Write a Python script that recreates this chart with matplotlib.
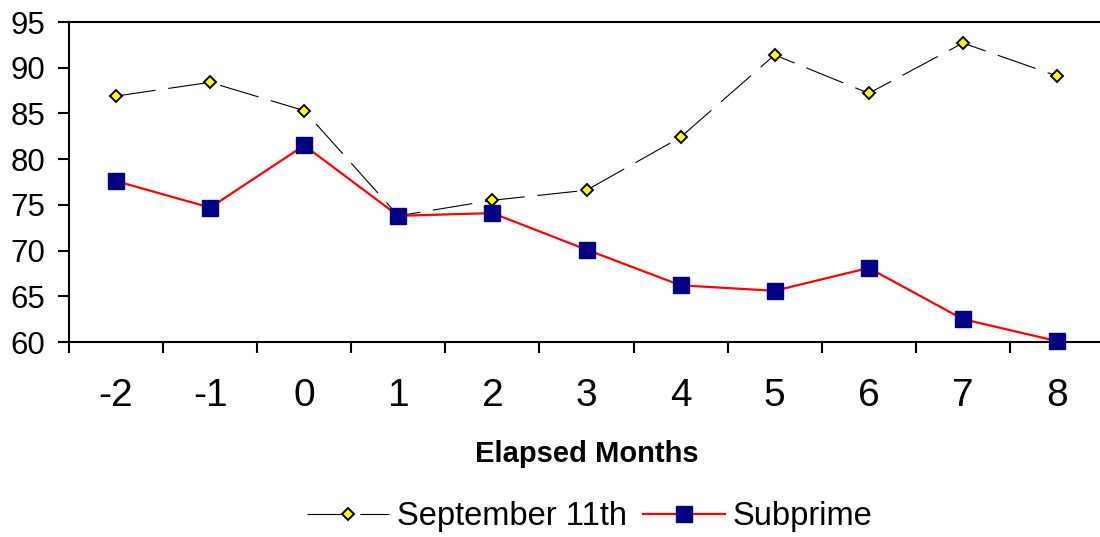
import matplotlib
matplotlib.use('Agg')
import matplotlib.pyplot as plt
import numpy as np

plt.rcParams['font.family'] = ['Liberation Sans', 'DejaVu Sans']

months = ['-2', '-1', '0', '1', '2', '3', '4', '5', '6', '7', '8']
sept_11 = [86.9, 88.4, 85.3, 73.8, 75.5, 76.6, 82.4, 91.4, 87.2, 92.7, 89.1]
subprime = [77.6, 74.7, 81.5, 73.8, 74.1, 70.1, 66.2, 65.6, 68.1, 62.5, 60.1]

fig = plt.figure(figsize=(11, 5.37), dpi=100)
ax = fig.add_axes([69 / 1100, 1 - 342 / 537, (1104 - 69) / 1100, 320 / 537])

x = np.arange(len(months))
ax.plot(x, sept_11, color='black', lw=0.8, dashes=(36, 11.5),
        marker='D', markersize=6, markerfacecolor='yellow',
        markeredgecolor='black', markeredgewidth=1.4,
        label='September 11th', clip_on=False)
ax.plot(x, subprime, color='red', lw=1.6,
        marker='s', markersize=11.5, markerfacecolor='#000080',
        markeredgecolor='#000080', label='Subprime', clip_on=False, zorder=3)

ax.set_xlim(-0.5, len(months) - 0.5)
ax.set_ylim(60, 95)
ax.set_yticks(np.arange(60, 96, 5))
ax.tick_params(axis='y', labelsize=22.5, direction='out', length=8, width=1.5, pad=9)

# category labels centered, tick marks between categories
ax.set_xticks(np.arange(-0.5, len(months), 1))
ax.set_xticklabels([])
ax.set_xticks(x, minor=True)
ax.set_xticklabels(months, minor=True)
ax.tick_params(axis='x', which='major', direction='out', length=8, width=1.5)
ax.tick_params(axis='x', which='minor', length=0, labelsize=28, pad=26)

for side in ['left', 'bottom', 'top']:
    ax.spines[side].set_linewidth(1.5)
ax.spines['right'].set_visible(False)

ax.set_xlabel('Elapsed Months', fontsize=21, fontweight='bold', labelpad=19)

fig.legend(loc='center', bbox_to_anchor=(590 / 1100, 1 - 517 / 537), ncol=2,
           frameon=False, fontsize=23.5, handlelength=2.5, handletextpad=0.25,
           columnspacing=0.5)

fig.savefig('out.png', dpi=100)
